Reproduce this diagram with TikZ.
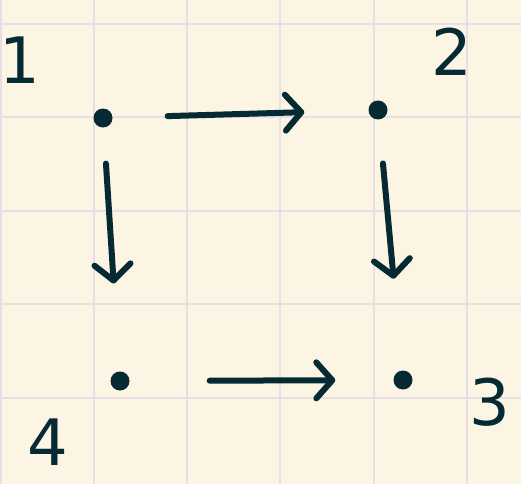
\documentclass[tikz,border=0pt]{standalone}
\usepackage{fontspec}
\setmainfont{DejaVu Sans}
\usetikzlibrary{arrows.meta}
\definecolor{paper}{HTML}{FCF5E3}
\definecolor{gridc}{HTML}{E7DEE6}
\definecolor{ink}{HTML}{062A33}
\begin{document}
\begin{tikzpicture}[x=1pt,y=-1pt,
  dotnode/.style={circle,fill=ink,inner sep=0pt,minimum size=19pt},
  numlabel/.style={text=ink,font=\fontsize{64}{64}\selectfont,inner sep=0pt},
  edge/.style={draw=ink,line width=6pt,line cap=round,line join=round,
    -{Straight Barb[length=16pt,width=36pt,line width=6pt,round]}},
  gridline/.style={draw=gridc,line width=2pt}]
\fill[paper] (0,0) rectangle (521,484);
\useasboundingbox (0,0) rectangle (521,484);
\foreach \x in {1,93.5,187,280,373.5,467}
  \draw[gridline] (\x,0) -- (\x,484);
\foreach \y in {24,117,211,304,398}
  \draw[gridline] (0,\y) -- (521,\y);
\node[dotnode] (n1) at (103,118) {};
\node[dotnode] (n2) at (378,110) {};
\node[dotnode] (n3) at (403,380) {};
\node[dotnode] (n4) at (120,381) {};
\node[numlabel] (l1) at (20,60) {1};
\node[numlabel] (l2) at (452,52) {2};
\node[numlabel] (l3) at (490,402) {3};
\node[numlabel] (l4) at (48,442) {4};
\draw[edge,shorten <=55pt,shorten >=64pt] (n1) -- (n2);
\draw[edge,shorten <=36pt,shorten >=88pt] (n1) -- (n4);
\draw[edge,shorten <=44pt,shorten >=92pt] (n2) -- (n3);
\draw[edge,shorten <=80pt,shorten >=58pt] (n4) -- (n3);
\end{tikzpicture}
\end{document}
